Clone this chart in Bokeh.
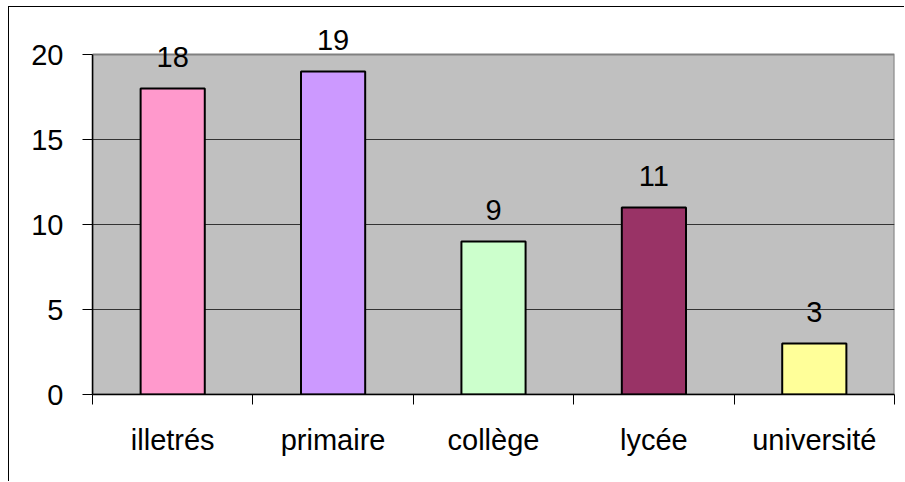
from bokeh.plotting import figure
from bokeh.models import Range1d, FixedTicker, Label, BoxAnnotation
from bokeh.embed import file_html
from bokeh.resources import INLINE

# Data
categories = ["illetrés", "primaire", "collège", "lycée", "université"]
counts = [18, 19, 9, 11, 3]
colors = ["#FF99CC", "#CC99FF", "#CCFFCC", "#993366", "#FFFF99"]
y_ticks = [0, 5, 10, 15, 20]

FONT = "Liberation Sans"
FSIZE = "29px"
Y_MAX = 20

centers = [i + 0.5 for i in range(len(categories))]

# Frame extends a little above the top of the value axis so that the value
# labels over the tallest bars are not clipped.
p = figure(width=896, height=475, output_backend="svg", toolbar_location=None,
           x_range=Range1d(0, len(categories)), y_range=Range1d(0, Y_MAX + 2),
           min_border_left=83, min_border_right=11,
           min_border_top=13, min_border_bottom=88)
p.margin = (6, 0, 0, 8)
p.styles = {"border-left": "1px solid #000000", "border-top": "1px solid #000000"}

p.background_fill_color = None
p.border_fill_color = "white"
p.outline_line_color = None

# Grey plot area from 0 to the axis maximum
p.add_layout(BoxAnnotation(left=0, right=len(categories), bottom=0, top=Y_MAX,
                           fill_color="#C0C0C0", fill_alpha=1.0,
                           line_color="#808080", line_width=2, line_alpha=1.0,
                           level="image", propagate_hover=False))

# Bars
p.vbar(x=centers, top=counts, width=0.4, bottom=0,
       fill_color=colors, line_color="black", line_width=2)

# Value labels above bars
for x, c in zip(centers, counts):
    p.add_layout(Label(x=x, y=c, text=str(c), text_align="center",
                       text_baseline="alphabetic", y_offset=32,
                       text_font=FONT, text_font_size=FSIZE,
                       text_color="black"))

# Y axis
p.yaxis.ticker = FixedTicker(ticks=y_ticks, minor_ticks=[])
p.yaxis.bounds = (0, Y_MAX)
p.yaxis.axis_line_color = "black"
p.yaxis.axis_line_width = 1.5
p.yaxis.major_tick_in = 0
p.yaxis.major_tick_out = 10
p.yaxis.major_tick_line_color = "black"
p.yaxis.major_label_standoff = 19
p.yaxis.major_label_text_font = FONT
p.yaxis.major_label_text_font_size = FSIZE
p.yaxis.major_label_text_color = "black"

# X axis: labels at category centres, tick marks at category boundaries
p.xaxis.ticker = FixedTicker(ticks=centers,
                             minor_ticks=list(range(len(categories) + 1)))
p.xaxis.major_label_overrides = {c: name for c, name in zip(centers, categories)}
p.xaxis.major_tick_line_color = None
p.xaxis.minor_tick_in = 0
p.xaxis.minor_tick_out = 10
p.xaxis.minor_tick_line_color = "black"
p.xaxis.axis_line_color = "black"
p.xaxis.axis_line_width = 1.5
p.xaxis.major_label_standoff = 19
p.xaxis.major_label_text_font = FONT
p.xaxis.major_label_text_font_size = FSIZE
p.xaxis.major_label_text_color = "black"

# Grid
p.xgrid.grid_line_color = None
p.ygrid.ticker = FixedTicker(ticks=y_ticks[1:-1])
p.ygrid.grid_line_color = "#333333"
p.ygrid.grid_line_width = 1

open("out.html", "w").write(file_html(p, INLINE))
